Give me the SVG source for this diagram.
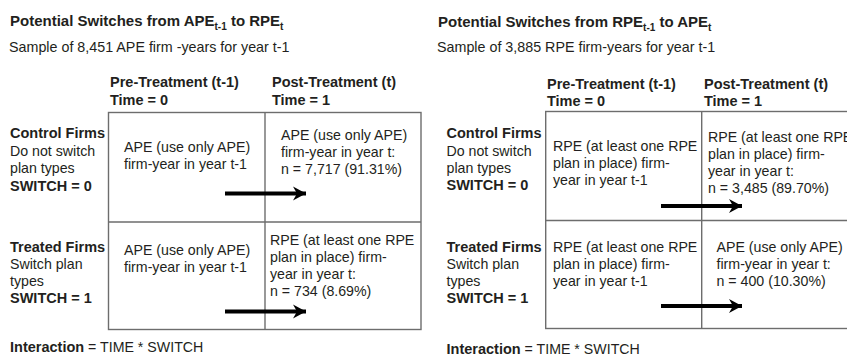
<svg xmlns="http://www.w3.org/2000/svg" width="847" height="359" viewBox="0 0 847 359">
<defs>
<style>
text{font-family:"Liberation Sans",Arial,sans-serif;fill:#231f20;}
.t{font-size:15px;font-weight:bold;}
.s{font-size:14.3px;}
.h{font-size:14.5px;font-weight:bold;}
.r{font-size:14.2px;}
.b{font-weight:bold;font-size:14.5px;}
.grid{fill:none;stroke:#6d6d6d;stroke-width:1.4;}
.arr{stroke:#000;stroke-width:4;fill:none;marker-end:url(#ah);}
</style>
<marker id="ah" markerUnits="userSpaceOnUse" markerWidth="15" markerHeight="15" viewBox="-13 -7.5 14 15" refX="0" refY="0" orient="auto">
<path d="M0,0 L-13,-7 L-9,0 L-13,7 Z" fill="#000"/>
</marker>
</defs>

<!-- LEFT PANEL -->
<g id="left-title">
<text class="t" x="10" y="26">Potential Switches from APE<tspan font-size="10" dy="4">t-1</tspan><tspan dy="-4"> to RPE</tspan><tspan font-size="10" dy="4">t</tspan></text>
<text class="s" x="9" y="51.5">Sample of 8,451 APE firm -years for year t-1</text>
</g>
<g id="left-headers">
<text class="h" x="110" y="87">Pre-Treatment (t-1)</text>
<text class="h" x="110" y="105">Time = 0</text>
<text class="h" x="272" y="87">Post-Treatment (t)</text>
<text class="h" x="272" y="105">Time = 1</text>
</g>
<g id="left-grid">
<rect class="grid" x="108.5" y="112.5" width="312.5" height="217"/>
<line class="grid" x1="265" y1="112.5" x2="265" y2="329.5"/>
<line class="grid" x1="108.5" y1="222" x2="421" y2="222"/>
</g>
<g id="left-control-label">
<text x="10" class="b" y="138">Control Firms</text>
<text x="10" class="r" y="155.5">Do not switch</text>
<text x="10" class="r" y="173">plan types</text>
<text x="10" class="b" y="190.5">SWITCH = 0</text>
</g>
<g id="left-treated-label">
<text x="10" class="b" y="252">Treated Firms</text>
<text x="10" class="r" y="269">Switch plan</text>
<text x="10" class="r" y="286">types</text>
<text x="10" class="b" y="303">SWITCH = 1</text>
</g>
<g id="left-control-pre">
<text class="r" x="124" y="152">APE (use only APE)</text>
<text class="r" x="124" y="169">firm-year in year t-1</text>
</g>
<g id="left-control-post">
<text class="r" x="281" y="140">APE (use only APE)</text>
<text class="r" x="281" y="157">firm-year in year t:</text>
<text class="r" x="281" y="174">n = 7,717 (91.31%)</text>
</g>
<g id="left-treated-pre">
<text class="r" x="124" y="255">APE (use only APE)</text>
<text class="r" x="124" y="272">firm-year in year t-1</text>
</g>
<g id="left-treated-post">
<text class="r" x="270" y="245">RPE (at least one RPE</text>
<text class="r" x="270" y="262">plan in place) firm-</text>
<text class="r" x="270" y="279">year in year t:</text>
<text class="r" x="270" y="296">n = 734 (8.69%)</text>
</g>
<g id="left-interaction">
<text x="10" y="352" class="r"><tspan font-weight="bold" font-size="14.5">Interaction</tspan> = TIME * SWITCH</text>
</g>

<!-- RIGHT PANEL -->
<g id="right-title">
<text class="t" x="438" y="27">Potential Switches from RPE<tspan font-size="10" dy="4">t-1</tspan><tspan dy="-4"> to APE</tspan><tspan font-size="10" dy="4">t</tspan></text>
<text class="s" x="437" y="51.5">Sample of 3,885 RPE firm-years for year t-1</text>
</g>
<g id="right-headers">
<text class="h" x="547" y="89">Pre-Treatment (t-1)</text>
<text class="h" x="547" y="106">Time = 0</text>
<text class="h" x="704" y="89">Post-Treatment (t)</text>
<text class="h" x="704" y="106">Time = 1</text>
</g>
<g id="right-grid">
<rect class="grid" x="545.7" y="111.5" width="312.5" height="217"/>
<line class="grid" x1="701.7" y1="111.5" x2="701.7" y2="328.5"/>
<line class="grid" x1="545.7" y1="220.5" x2="858" y2="220.5"/>
</g>
<g id="right-control-label">
<text x="446.5" class="b" y="138">Control Firms</text>
<text x="446.5" class="r" y="155.5">Do not switch</text>
<text x="446.5" class="r" y="172.5">plan types</text>
<text x="446.5" class="b" y="190">SWITCH = 0</text>
</g>
<g id="right-treated-label">
<text x="446.5" class="b" y="251.5">Treated Firms</text>
<text x="446.5" class="r" y="268.5">Switch plan</text>
<text x="446.5" class="r" y="285.5">types</text>
<text x="446.5" class="b" y="302.5">SWITCH = 1</text>
</g>
<g id="right-control-pre">
<text class="r" x="553" y="150.5">RPE (at least one RPE</text>
<text class="r" x="553" y="167.5">plan in place) firm-</text>
<text class="r" x="553" y="184.5">year in year t-1</text>
</g>
<g id="right-control-post">
<text class="r" x="708" y="141.5">RPE (at least one RPE</text>
<text class="r" x="708" y="158.5">plan in place) firm-</text>
<text class="r" x="708" y="175.5">year in year t:</text>
<text class="r" x="708" y="192.5">n = 3,485 (89.70%)</text>
</g>
<g id="right-treated-pre">
<text class="r" x="553" y="251.5">RPE (at least one RPE</text>
<text class="r" x="553" y="268.5">plan in place) firm-</text>
<text class="r" x="553" y="285.5">year in year t-1</text>
</g>
<g id="right-treated-post">
<text class="r" x="716.5" y="251.5">APE (use only APE)</text>
<text class="r" x="716.5" y="268.5">firm-year in year t:</text>
<text class="r" x="716.5" y="285.5">n = 400 (10.30%)</text>
</g>
<g id="right-interaction">
<text x="446.5" y="354" class="r"><tspan font-weight="bold" font-size="14.5">Interaction</tspan> = TIME * SWITCH</text>
</g>

<g id="connectors">
<line class="arr" x1="225" y1="193.5" x2="306" y2="193.5"/>
<line class="arr" x1="225" y1="311.5" x2="306" y2="311.5"/>
<line class="arr" x1="661" y1="206" x2="742" y2="206"/>
<line class="arr" x1="661" y1="306" x2="742" y2="306"/>
</g>
</svg>
